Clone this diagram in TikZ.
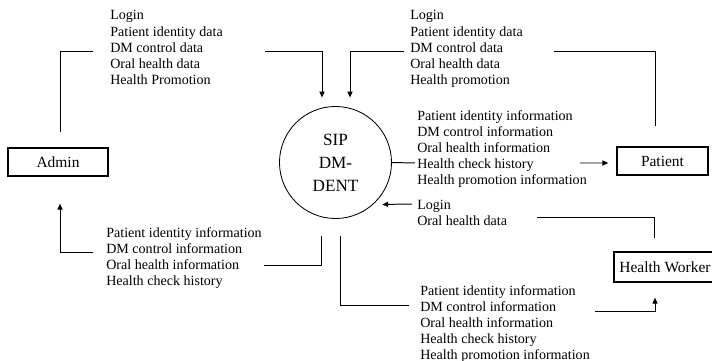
\documentclass[tikz,border=0pt]{standalone}
\usepackage{fontspec}
\setmainfont{Liberation Serif}
\usetikzlibrary{arrows.meta,calc}

\begin{document}
\begin{tikzpicture}[
  x=0.025cm,y=-0.025cm,
  entity/.style={draw,line width=0.9pt,minimum height=0.7cm,inner sep=0pt,font=\fontsize{11}{13}\selectfont},
  process/.style={draw,circle,line width=0.6pt,minimum size=2.8cm,inner sep=0pt,align=center,font=\fontsize{12.2}{16.3}\selectfont},
  flowtext/.style={anchor=north west,align=left,inner sep=0pt,font=\fontsize{10}{11.4}\selectfont},
  link/.style={line width=0.7pt},
  arrow/.style={link,-{Triangle[length=4.2pt,width=3.6pt]}}
]
\useasboundingbox (0,0) rectangle (712,361);
\node[entity,minimum width=2.5cm] (admin) at (58,162) {Admin};
\node[entity,minimum width=2.275cm] (patient) at (662.5,161) {Patient};
\node[entity,minimum width=2.55cm,minimum height=0.75cm] (worker) at (665,267) {Health Worker};
\node[process] (sip) at (335.5,162.5) {SIP\\DM-\\DENT};
\node[flowtext] (topL) at (110,10.4)
  {Login\\Patient identity data\\DM control data\\Oral health data\\Health Promotion};
\node[flowtext] (topR) at (410,10.4)
  {Login\\Patient identity data\\DM control data\\Oral health data\\Health promotion};
\node[flowtext] (outP) at (417,110.4)
  {Patient identity information\\DM control information\\Oral health information\\Health check history\\Health promotion information};
\node[flowtext] (inW) at (417,199.5)
  {Login\\Oral health data};
\node[flowtext] (outA) at (106,227)
  {Patient identity information\\DM control information\\Oral health information\\Health check history};
\node[flowtext] (outW) at (420,285)
  {Patient identity information\\DM control information\\Oral health information\\Health check history\\Health promotion information};
\draw[link] ($(admin.north)+(2,-15)$) |- ($(topL.north west)+(-17,40.6)$);
\draw[arrow] ($(topL.north west)+(155,40.6)$) -| ($(sip.north)+(-13.5,-8.5)$);
\draw[link] ($(patient.north)+(-7.5,-20)$) |- ($(topR.north west)+(144,40.6)$);
\draw[arrow] ($(topR.north west)+(-6,40.6)$) -| ($(sip.north)+(14.5,-8.5)$);
\draw[link] (sip.east) -- ($(outP.north west)+(-2,52.6)$);
\draw[arrow] ($(outP.north west)+(163,52.6)$) -- ($(patient.west)+(-8,2)$);
\draw[arrow] ($(inW.north west)+(-5,4.5)$) -- ($(sip.-48)+(9,0)$);
\draw[link] ($(worker.north)+(-11,-13)$) |- ($(inW.north west)+(120,17.5)$);
\draw[link] ($(sip.south)+(-14.5,17)$) |- ($(outA.north west)+(158,38)$);
\draw[arrow] ($(outA.north west)+(-13,25)$) -| ($(admin.south)+(2,27)$);
\draw[link] ($(sip.south)+(4.5,17)$) |- ($(outW.north west)+(-11,20)$);
\draw[arrow] ($(outW.north west)+(175,26)$) -| ($(worker.south)+(-10,15)$);
\end{tikzpicture}
\end{document}
